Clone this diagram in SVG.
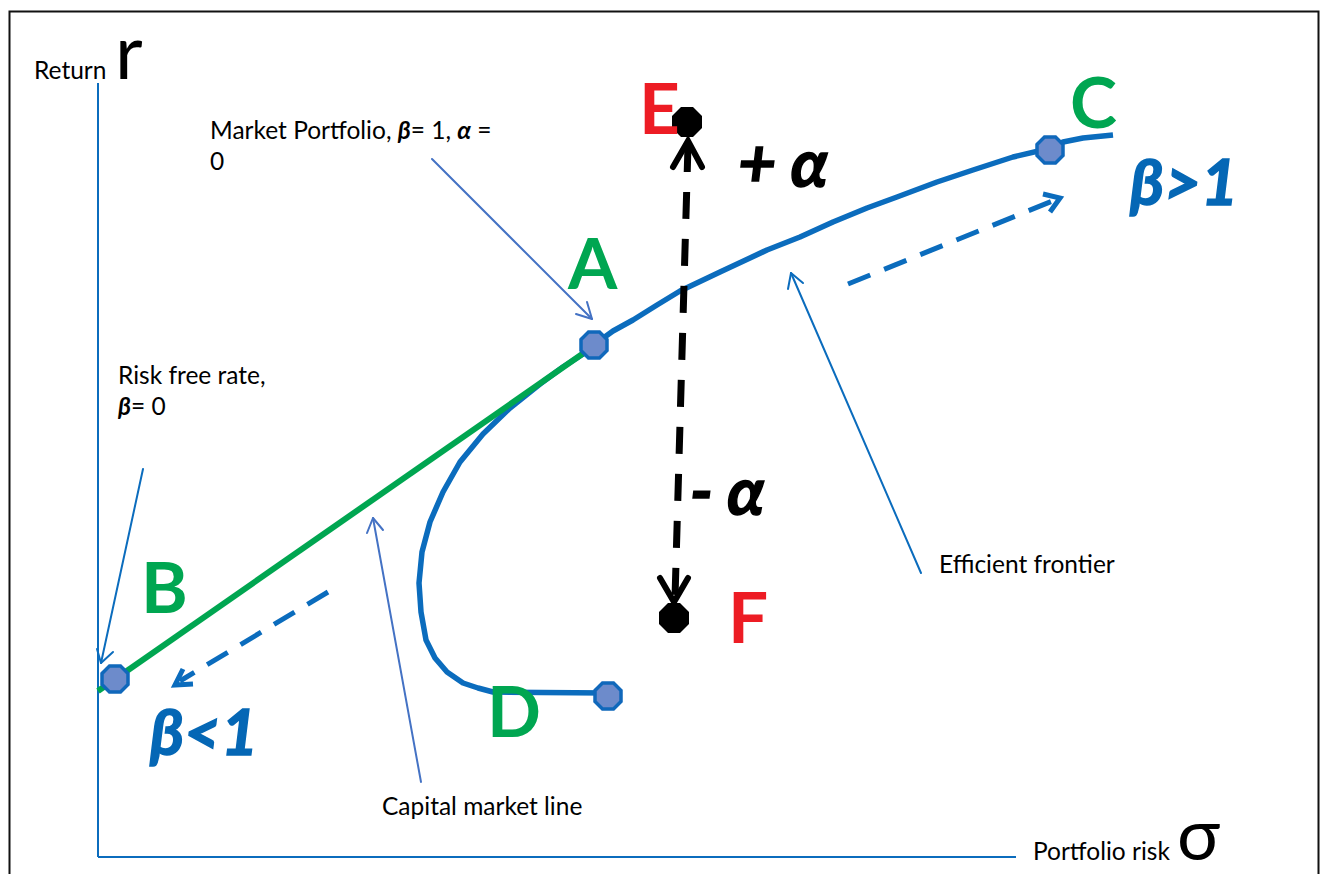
<svg xmlns="http://www.w3.org/2000/svg" width="1322" height="874" viewBox="0 0 1322 874">
<style>
.lbl{font-family:Lato,"Liberation Sans",sans-serif;font-size:24.5px;fill:#000}
.bi{font-weight:bold;font-style:italic}
.big{font-family:Lato,"Liberation Sans",sans-serif;font-weight:bold;font-size:71px}
.green{fill:#00a651}
.red{fill:#ed1c24}
.beta{font-family:Lato,"Liberation Sans",sans-serif;font-weight:bold;font-style:italic;font-size:64px;fill:#0567b5;stroke:#0567b5;stroke-width:1.5}
.alpha{font-family:Lato,"Liberation Sans",sans-serif;font-weight:bold;font-style:italic;font-size:66px;fill:#000;stroke:#000;stroke-width:1.5}
.axis{stroke:#0b6cbd;stroke-width:2;fill:none}
.callout{stroke:#4472c4;stroke-width:2;fill:none;stroke-linecap:round;stroke-linejoin:round}
.callout2{stroke:#0b6cbd;stroke-width:2;fill:none;stroke-linecap:round;stroke-linejoin:round}
.bdash{stroke:#0b6cbd;stroke-width:5;fill:none;stroke-dasharray:24 15}
.bhead{stroke:#0b6cbd;stroke-width:5;fill:none;stroke-linejoin:miter}
.kdash{stroke:#000;stroke-width:7;fill:none;stroke-dasharray:27 20}
.khead{stroke:#000;stroke-width:6;fill:none;stroke-linecap:round}
.pt{fill:#6d8bcb;stroke:#1068bb;stroke-width:3.5}
</style>
<defs>
<polygon id="oct" points="5.5,-13 13,-5.5 13,5.5 5.5,13 -5.5,13 -13,5.5 -13,-5.5 -5.5,-13"/>
<polygon id="oct2" points="6,-15 15,-6 15,6 6,15 -6,15 -15,6 -15,-6 -6,-15"/>
</defs>
<rect width="1322" height="874" fill="#fff"/>
<path d="M9.5,880 V11.5 H1318.5 V880" stroke="#111" stroke-width="2" fill="none"/>

<g id="axes">
<line class="axis" x1="98" y1="83" x2="98" y2="857"/>
<line class="axis" x1="98" y1="857" x2="1016" y2="857"/>
<text class="lbl" x="34" y="79">Return</text>
<text x="115" y="79" style="font-family:Lato,'Liberation Sans',sans-serif;font-size:76px">r</text>
<text class="lbl" x="1033" y="860">Portfolio risk</text>
<text x="1177" y="860" style="font-family:Lato,'Liberation Sans',sans-serif;font-size:72px">σ</text>
</g>

<g id="connectors">
<polyline id="frontier" fill="none" stroke="#0b6cbd" stroke-width="5.5" stroke-linejoin="round" stroke-linecap="butt" points="608,693 493,692 478,688 463,683 447,672 435,658 426,640 421,612 419,583 422,552 430,522 443,492 460,462 483,434 510,408 540,384 563,367 583,354 595,344 613,331 633,320 657,305 680,291 720,272 767,250 800,237 833,222 867,208 897,197 937,182 973,170 1013,157 1047,149 1063,142 1083,138 1113,135"/>
<line id="cml" x1="98" y1="691" x2="588" y2="350" stroke="#00a651" stroke-width="6"/>
<line class="kdash" x1="688" y1="145" x2="675" y2="598"/>
<polyline class="khead" points="673,167 688,141 702,167"/>
<polyline class="khead" points="660,578 674,602 688,578"/>
<line class="bdash" x1="848" y1="284" x2="1055" y2="200"/>
<polyline class="bhead" points="1043,194 1060,198 1050,212"/>
<line class="bdash" x1="328" y1="592" x2="180" y2="681"/>
<polyline class="bhead" points="183,669 175,685 193,684"/>
<line class="callout" x1="432" y1="159" x2="592" y2="319"/>
<polyline class="callout" points="576,314 592,319 587,302"/>
<line class="callout2" x1="143" y1="469" x2="101" y2="663"/>
<polyline class="callout2" points="97,649 101,663 113,652"/>
<line class="callout" x1="421" y1="782" x2="373" y2="518"/>
<polyline class="callout" points="367,533 373,518 383,530"/>
<line class="callout2" x1="921" y1="573" x2="791" y2="273"/>
<polyline class="callout2" points="788,289 791,273 803,283"/>
</g>

<g id="node-A"><use href="#oct" class="pt" x="594" y="345"/><text class="big green" x="568" y="289">A</text></g>
<g id="node-B"><use href="#oct" class="pt" x="115" y="679"/><text class="big green" x="141" y="613">B</text></g>
<g id="node-C"><use href="#oct" class="pt" x="1050" y="150"/><text class="big green" x="1070" y="128">C</text></g>
<g id="node-D"><use href="#oct" class="pt" x="608" y="696"/><text class="big green" x="487" y="737">D</text></g>
<g id="node-E"><use href="#oct2" x="687" y="122" fill="#000"/><text class="big red" x="639" y="134">E</text></g>
<g id="node-F"><use href="#oct2" x="674" y="618" fill="#000"/><text class="big red" x="728" y="643">F</text></g>

<g id="labels">
<text class="lbl" x="210" y="139">Market Portfolio, <tspan class="bi">β</tspan>= 1, <tspan class="bi">α</tspan> =</text>
<text class="lbl" x="210" y="170">0</text>
<text class="lbl" x="118" y="384">Risk free rate,</text>
<text class="lbl" x="118" y="415"><tspan class="bi">β</tspan>= 0</text>
<text class="lbl" x="382" y="815">Capital market line</text>
<text class="lbl" x="939" y="573">Efficient frontier</text>
<text class="alpha" x="738" y="187">+ α</text>
<text class="alpha" x="690" y="515">- α</text>
<text class="beta" x="1130" y="205">β&gt;1</text>
<text class="beta" x="150" y="755">β&lt;1</text>
</g>
</svg>
